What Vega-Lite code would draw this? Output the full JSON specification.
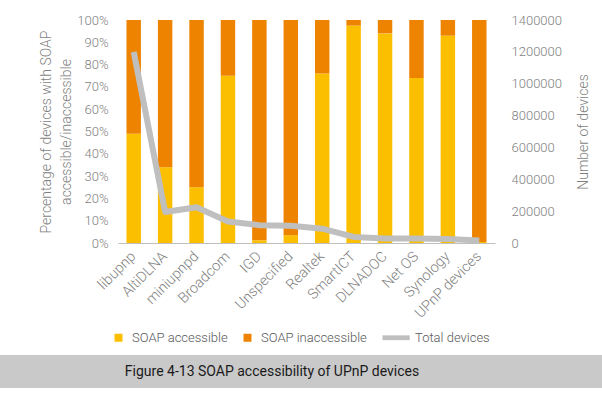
{
  "$schema": "https://vega.github.io/schema/vega-lite/v6.json",
  "background": "white",
  "padding": {"top": 14, "left": 0, "right": 0, "bottom": 11},
  "spacing": 10,
  "resolve": {"legend": {"color": "independent"}, "scale": {"color": "independent"}},
  "config": {
    "view": {"stroke": null},
    "font": "Roboto",
    "legend": {"layout": {"bottom": {"anchor": "middle"}}}
  },
  "datasets": {
    "shares": [
      {"device": "libupnp", "type": "SOAP accessible", "pct": 0.49},
      {"device": "libupnp", "type": "SOAP inaccessible", "pct": 0.51},
      {"device": "AltiDLNA", "type": "SOAP accessible", "pct": 0.34},
      {"device": "AltiDLNA", "type": "SOAP inaccessible", "pct": 0.66},
      {"device": "miniupnpd", "type": "SOAP accessible", "pct": 0.25},
      {"device": "miniupnpd", "type": "SOAP inaccessible", "pct": 0.75},
      {"device": "Broadcom", "type": "SOAP accessible", "pct": 0.75},
      {"device": "Broadcom", "type": "SOAP inaccessible", "pct": 0.25},
      {"device": "IGD", "type": "SOAP accessible", "pct": 0.012},
      {"device": "IGD", "type": "SOAP inaccessible", "pct": 0.988},
      {"device": "Unspecified", "type": "SOAP accessible", "pct": 0.035},
      {"device": "Unspecified", "type": "SOAP inaccessible", "pct": 0.965},
      {"device": "Realtek", "type": "SOAP accessible", "pct": 0.76},
      {"device": "Realtek", "type": "SOAP inaccessible", "pct": 0.24},
      {"device": "SmartICT", "type": "SOAP accessible", "pct": 0.975},
      {"device": "SmartICT", "type": "SOAP inaccessible", "pct": 0.025},
      {"device": "DLNADOC", "type": "SOAP accessible", "pct": 0.94},
      {"device": "DLNADOC", "type": "SOAP inaccessible", "pct": 0.06},
      {"device": "Net OS", "type": "SOAP accessible", "pct": 0.74},
      {"device": "Net OS", "type": "SOAP inaccessible", "pct": 0.26},
      {"device": "Synology", "type": "SOAP accessible", "pct": 0.93},
      {"device": "Synology", "type": "SOAP inaccessible", "pct": 0.07},
      {"device": "UPnP devices", "type": "SOAP accessible", "pct": 0.005},
      {"device": "UPnP devices", "type": "SOAP inaccessible", "pct": 0.995}
    ],
    "totals": [
      {"device": "libupnp", "series": "Total devices", "total": 1200000},
      {"device": "AltiDLNA", "series": "Total devices", "total": 195000},
      {"device": "miniupnpd", "series": "Total devices", "total": 225000},
      {"device": "Broadcom", "series": "Total devices", "total": 135000},
      {"device": "IGD", "series": "Total devices", "total": 112000},
      {"device": "Unspecified", "series": "Total devices", "total": 108000},
      {"device": "Realtek", "series": "Total devices", "total": 90000},
      {"device": "SmartICT", "series": "Total devices", "total": 38000},
      {"device": "DLNADOC", "series": "Total devices", "total": 28000},
      {"device": "Net OS", "series": "Total devices", "total": 28000},
      {"device": "Synology", "series": "Total devices", "total": 25000},
      {"device": "UPnP devices", "series": "Total devices", "total": 15000}
    ],
    "caption": [
      {"caption": "Figure 4-13 SOAP accessibility of UPnP devices"}
    ]
  },
  "vconcat": [
    {
      "width": 602,
      "height": 223,
      "encoding": {
        "x": {
          "field": "device",
          "type": "nominal",
          "sort": null,
          "scale": {"range": [118, 495], "paddingInner": 0, "paddingOuter": 0},
          "axis": {
            "title": null,
            "labelAngle": -45,
            "labelAlign": "right",
            "labelBaseline": "middle",
            "ticks": false,
            "domain": true,
            "domainColor": "#bfbfbf",
            "labelPadding": 11,
            "labelFontSize": 14.5,
            "labelFontWeight": 300,
            "labelColor": "#7f7f7f"
          }
        },
        "color": {
          "type": "nominal",
          "scale": {
            "domain": ["SOAP accessible", "SOAP inaccessible", "Total devices"],
            "range": ["#FBBF00", "#EE8300", "#BFBFBF"]
          },
          "legend": {
            "orient": "bottom",
            "direction": "horizontal",
            "title": null,
            "labelFontSize": 13,
            "labelFontWeight": 300,
            "labelColor": "#595959",
            "labelExpr": "datum.value === 'Total devices' ? datum.label + '  ' : datum.label",
            "symbolSize": 64,
            "symbolType": "square",
            "symbolStrokeWidth": 0,
            "columnPadding": 13,
            "labelOffset": 7,
            "offset": 10,
            "encode": {
              "symbols": {
                "update": {
                  "shape": {"signal": "datum.value === 'Total devices' ? 'M-1,-0.6H5.8V0.6H-1Z' : 'square'"}
                }
              },
              "labels": {
                "update": {
                  "dx": {"signal": "datum.value === 'Total devices' ? 15 : 0"}
                }
              }
            }
          }
        }
      },
      "layer": [
        {
          "data": {"name": "shares"},
          "mark": {"type": "bar", "width": {"band": 0.46}},
          "encoding": {
            "y": {
              "field": "pct",
              "type": "quantitative",
              "stack": "zero",
              "scale": {"domain": [0, 1]},
              "axis": {
                "orient": "left",
                "offset": -118,
                "grid": false,
                "domain": false,
                "ticks": false,
                "values": [0, 0.1, 0.2, 0.3, 0.4, 0.5, 0.6, 0.7, 0.8, 0.9, 1],
                "format": ".0%",
                "labelPadding": 10,
                "labelFontSize": 13,
                "labelFontWeight": 300,
                "labelColor": "#7f7f7f",
                "title": ["Percentage of devices with SOAP", "accessible/inaccessible"],
                "titleFontSize": 14,
                "titleFontWeight": 300,
                "titleColor": "#7f7f7f",
                "titleLineHeight": 20,
                "titlePadding": 3
              }
            },
            "color": {"field": "type"},
            "order": {"field": "type", "sort": "ascending"}
          }
        },
        {
          "data": {"name": "totals"},
          "mark": {"type": "line", "strokeWidth": 6, "strokeJoin": "round"},
          "encoding": {
            "y": {
              "field": "total",
              "type": "quantitative",
              "scale": {"domain": [0, 1400000]},
              "axis": {
                "orient": "right",
                "offset": -107,
                "grid": false,
                "domain": false,
                "ticks": false,
                "values": [0, 200000, 400000, 600000, 800000, 1000000, 1200000, 1400000],
                "format": "d",
                "labelPadding": 16,
                "labelFontSize": 13,
                "labelFontWeight": 300,
                "labelColor": "#7f7f7f",
                "title": "Number of devices",
                "titleAngle": 270,
                "titleFontSize": 14,
                "titleFontWeight": 300,
                "titleColor": "#7f7f7f",
                "titlePadding": 29
              }
            },
            "color": {"field": "series"}
          }
        }
      ],
      "resolve": {"scale": {"y": "independent"}}
    },
    {
      "width": 602,
      "height": 33,
      "view": {"fill": "#C9C9C9", "stroke": null},
      "data": {"name": "caption"},
      "mark": {"type": "text", "font": "Roboto", "fontSize": 14, "color": "#1a1a1a", "dx": -29},
      "encoding": {"text": {"field": "caption"}}
    }
  ]
}
